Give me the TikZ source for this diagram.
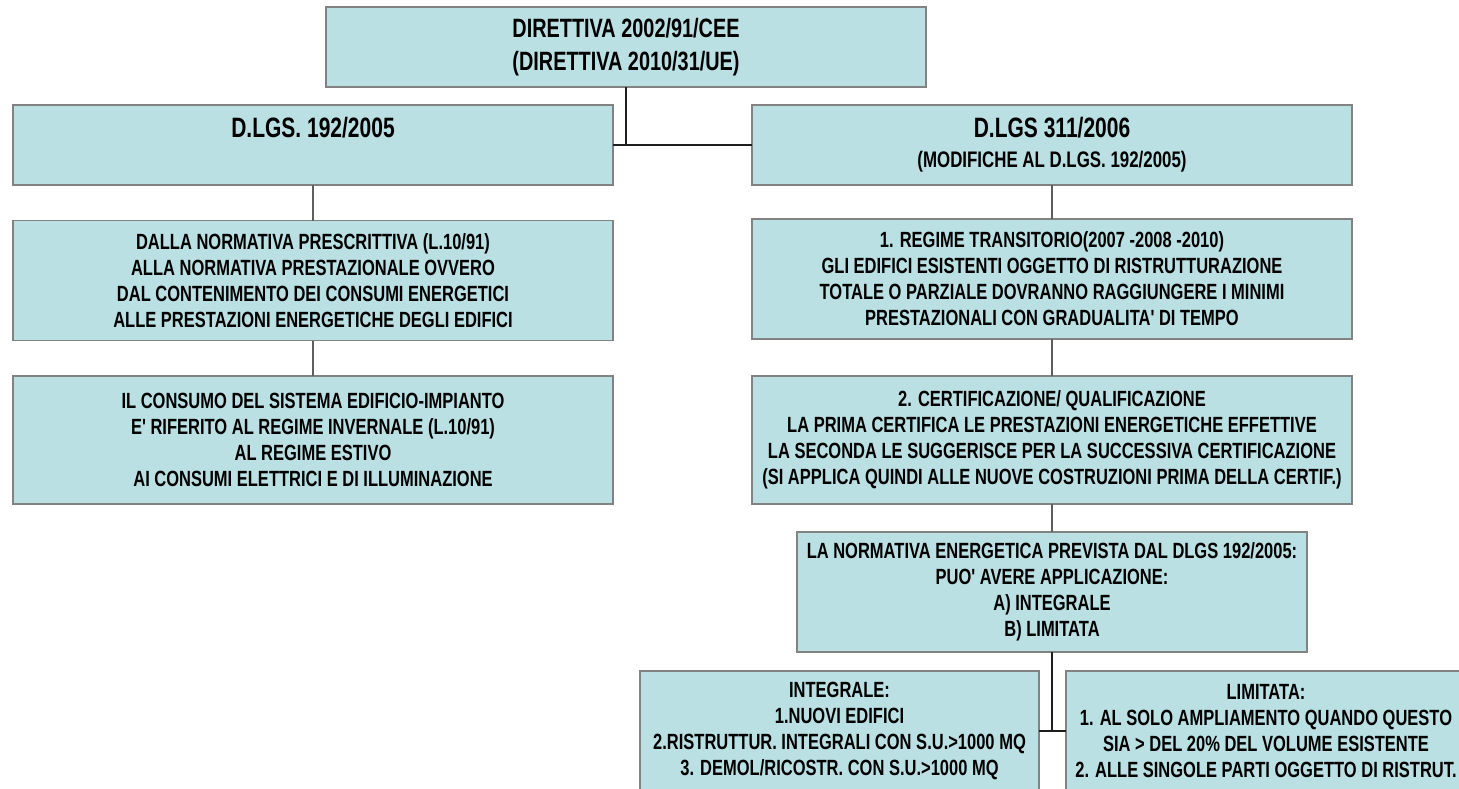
\documentclass[tikz,border=0pt]{standalone}
\usepackage{fontspec}
\newfontfamily\narrowbold{Liberation Sans}[FakeStretch=0.75]
\definecolor{boxfill}{RGB}{186,224,227}
\definecolor{boxline}{RGB}{130,130,130}
\definecolor{linkgray}{RGB}{95,95,95}
\definecolor{linkdark}{RGB}{30,30,30}
\tikzset{
  box/.style={draw=boxline, fill=boxfill, line width=1.3pt, inner sep=0pt, outer sep=0pt,
              align=center, font=\narrowbold\bfseries\fontsize{22}{26}\selectfont},
  headtxt/.style={inner sep=0pt, font=\narrowbold\bfseries\fontsize{28}{32}\selectfont},
  subtxt/.style={inner sep=0pt, font=\narrowbold\bfseries\fontsize{22.5}{26}\selectfont},
  toptxt/.style={font=\narrowbold\bfseries\fontsize{26.5}{33}\selectfont},
  softlink/.style={draw=linkgray, line width=1.6pt},
  hardlink/.style={draw=linkdark, line width=2pt},
}
\begin{document}
\begin{tikzpicture}[x=1pt, y=-1pt]
\useasboundingbox (0,0) rectangle (1459,788);
\clip (0,0) rectangle (1459,788);

% top directive
\node[box, toptxt, minimum width=600, minimum height=80] (dir) at (626,47)
  {DIRETTIVA 2002/91/CEE\\(DIRETTIVA 2010/31/UE)};

% left column
\node[box, minimum width=600, minimum height=80] (lg) at (313,145) {};
\node[headtxt] (lgt) at (313,128) {D.LGS. 192/2005};
\node[box, minimum width=600, minimum height=120] (l2) at (313,280.5)
  {DALLA NORMATIVA PRESCRITTIVA (L.10/91)\\
   ALLA NORMATIVA PRESTAZIONALE OVVERO\\
   DAL CONTENIMENTO DEI CONSUMI ENERGETICI\\
   ALLE PRESTAZIONI ENERGETICHE DEGLI EDIFICI};
\node[box, minimum width=600, minimum height=128] (l3) at (313,440)
  {IL CONSUMO DEL SISTEMA EDIFICIO-IMPIANTO\\
   E' RIFERITO AL REGIME INVERNALE (L.10/91)\\
   AL REGIME ESTIVO\\
   AI CONSUMI ELETTRICI E DI ILLUMINAZIONE};

% right column
\node[box, minimum width=600, minimum height=80] (rg) at (1052,145) {};
\node[headtxt] (rgt) at (1052,128) {D.LGS 311/2006};
\node[subtxt] (rgs) at (1052,162) {(MODIFICHE AL D.LGS. 192/2005)};
\node[box, minimum width=600, minimum height=120] (r2) at (1052,279)
  {1. REGIME TRANSITORIO(2007 -2008 -2010)\\
   GLI EDIFICI ESISTENTI OGGETTO DI RISTRUTTURAZIONE\\
   TOTALE O PARZIALE DOVRANNO RAGGIUNGERE I MINIMI\\
   PRESTAZIONALI CON GRADUALITA' DI TEMPO};
\node[box, minimum width=600, minimum height=128] (r3) at (1052,440)
  {2. CERTIFICAZIONE/ QUALIFICAZIONE\\
   LA PRIMA CERTIFICA LE PRESTAZIONI ENERGETICHE EFFETTIVE\\
   LA SECONDA LE SUGGERISCE PER LA SUCCESSIVA CERTIFICAZIONE\\
   (SI APPLICA QUINDI ALLE NUOVE COSTRUZIONI PRIMA DELLA CERTIF.)};
\node[box, minimum width=510, minimum height=120] (norm) at (1052,592)
  {LA NORMATIVA ENERGETICA PREVISTA DAL DLGS 192/2005:\\
   PUO' AVERE APPLICAZIONE:\\
   A) INTEGRALE\\
   B) LIMITATA};
\node[box, minimum width=399, minimum height=120] (integ) at (839.5,731)
  {INTEGRALE:\\
   1.NUOVI EDIFICI\\
   2.RISTRUTTUR. INTEGRALI CON S.U.>1000 MQ\\
   3. DEMOL/RICOSTR. CON S.U.>1000 MQ};
\node[box, minimum width=400, minimum height=120] (limit) at (1266,731)
  {LIMITATA:\\
   1. AL SOLO AMPLIAMENTO QUANDO QUESTO\\
   SIA > DEL 20\% DEL VOLUME ESISTENTE\\
   2. ALLE SINGOLE PARTI OGGETTO DI RISTRUT.};

% connectors
\draw[hardlink] (dir.south) -- (dir.south |- lg.east);
\draw[hardlink] (lg.east) -- (rg.west);
\draw[softlink] (lg.south) -- (l2.north);
\draw[softlink] (l2.south) -- (l3.north);
\draw[softlink] (rg.south) -- (r2.north);
\draw[softlink] (r2.south) -- (r3.north);
\draw[softlink] (r3.south) -- (norm.north);
\draw[hardlink] (norm.south) -- (norm.south |- integ.east);
\draw[hardlink] (integ.east) -- (limit.west);
\end{tikzpicture}
\end{document}
